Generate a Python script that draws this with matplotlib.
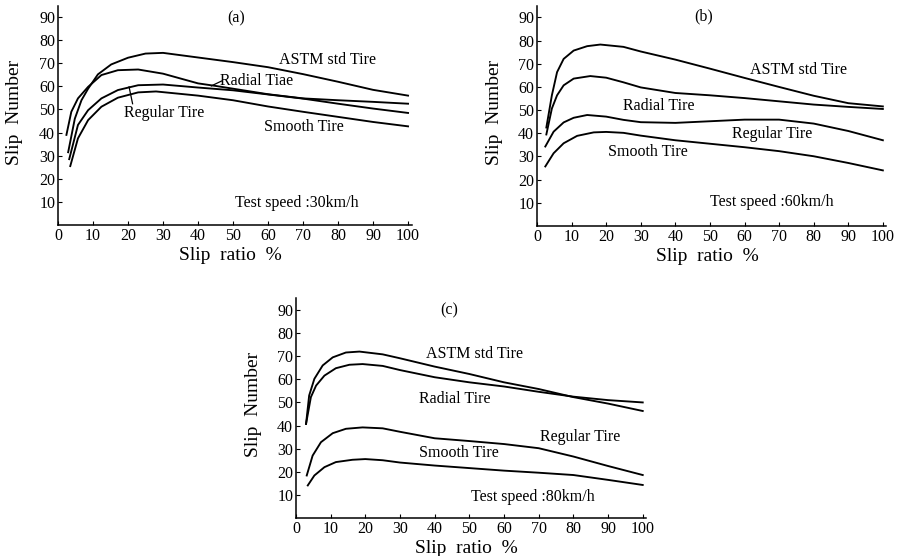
import matplotlib

matplotlib.use("Agg")

import matplotlib.pyplot as plt

plt.rcParams["font.family"] = ["Liberation Serif", "DejaVu Serif"]

# Slip number vs slip ratio (%), one set of tires per test speed

# (a) 30 km/h
astm_a_x = [2.9, 4.8, 6.7, 8.6, 11.4, 15.2, 20, 25, 30, 40, 50, 60, 70, 80, 90, 100]
astm_a = [31.5, 46, 54, 59, 65.2, 69.5, 72.4, 74.2, 74.5, 72.5, 70.5, 68.3, 65.3, 62, 58.5, 56]
radial_a_x = [2.4, 3.8, 5.7, 8.6, 12.4, 17.1, 22.9, 30, 40, 45, 50, 60, 70, 80, 90, 100]
radial_a = [39, 49, 54.8, 59.8, 64.9, 67, 67.3, 65.5, 61.3, 60.2, 59, 56.6, 54.8, 54, 53.3, 52.5]
regular_a_x = [3.2, 5.7, 8.6, 12.4, 17.1, 22.9, 30, 40, 50, 60, 70, 80, 90, 100]
regular_a = [28.5, 43.3, 49.7, 54.8, 58.4, 60.5, 60.8, 59.5, 58.3, 56.5, 54.7, 52.5, 50.4, 48.5]
smooth_a_x = [3.5, 5.7, 8.6, 12.4, 17.1, 22.9, 28, 40, 50, 60, 70, 80, 90, 100]
smooth_a = [25.5, 37.5, 45.4, 51.2, 55.1, 57.4, 57.8, 56, 54, 51.3, 49, 46.8, 44.6, 42.7]

# (b) 60 km/h
astm_b_x = [2.7, 4.3, 5.8, 7.7, 10.6, 14.5, 18.3, 25, 30, 40, 50, 60, 70, 80, 90, 100]
astm_b = [42.5, 56.4, 66.4, 72.1, 75.7, 77.6, 78.3, 77.3, 75.3, 71.8, 67.9, 63.9, 60, 56.2, 53, 51.6]
radial_b_x = [2.7, 4.3, 5.8, 7.7, 10.6, 15.4, 20, 25, 30, 40, 50, 60, 70, 80, 90, 100]
radial_b = [39.5, 50.7, 56.4, 60.7, 63.6, 64.7, 64, 62, 59.8, 57.4, 56.4, 55.2, 53.8, 52.4, 51.4, 50.5]
regular_b_x = [2.4, 4.8, 7.7, 10.6, 14.5, 20, 25, 30, 40, 50, 60, 70, 80, 90, 100]
regular_b = [34.3, 40.7, 44.7, 46.7, 47.9, 47.2, 45.8, 44.8, 44.5, 45.2, 45.9, 45.9, 44.2, 41, 37]
smooth_b_x = [2.4, 4.8, 7.7, 11.6, 16.4, 20, 25, 30, 40, 50, 60, 70, 80, 90, 100]
smooth_b = [25.7, 31.4, 35.7, 38.9, 40.4, 40.6, 40.2, 39, 37, 35.5, 34, 32.3, 30.1, 27.2, 24]

# (c) 80 km/h
astm_c_x = [2.9, 3.8, 5.3, 7.7, 10.6, 14.4, 18.3, 25, 30, 40, 50, 60, 70, 80, 90, 100]
astm_c = [40.7, 53, 60.2, 66, 69.5, 71.6, 72, 70.8, 69.1, 65.5, 62.3, 58.7, 55.8, 52.3, 49.5, 46.3]
radial_c_x = [2.9, 4.3, 5.8, 8.2, 11.5, 15.4, 19.2, 25, 30, 40, 50, 60, 70, 80, 90, 100]
radial_c = [40.7, 52.3, 57.3, 61.6, 64.8, 66.3, 66.6, 65.8, 64, 60.9, 58.7, 56.9, 54.6, 52.5, 51, 50]
regular_c_x = [3.1, 4.8, 7.2, 10.6, 14.4, 19.2, 25, 30, 40, 50, 60, 70, 80, 90, 100]
regular_c = [18.4, 27, 32.8, 36.7, 38.6, 39.2, 38.8, 37.3, 34.5, 33.3, 32, 30.2, 26.6, 22.5, 18.6]
smooth_c_x = [3.4, 5.3, 8.2, 11.5, 16.3, 20, 25, 30, 40, 50, 60, 70, 80, 90, 100]
smooth_c = [14.1, 18.4, 22, 24.2, 25.2, 25.5, 25, 24, 22.7, 21.6, 20.5, 19.6, 18.6, 16.5, 14.3]

x_ticks = list(range(0, 101, 10))
y_ticks = list(range(10, 91, 10))

fig = plt.figure(figsize=(8.98, 5.56), dpi=100)


def make_axes(rect):
    ax = fig.add_axes(rect)
    ax.set_xlim(0, 101)
    ax.set_ylim(0, 95)
    ax.set_xticks(x_ticks)
    ax.set_yticks(y_ticks)
    ax.spines["top"].set_visible(False)
    ax.spines["right"].set_visible(False)
    for side in ("left", "bottom"):
        ax.spines[side].set_linewidth(1.1)
    ax.tick_params(direction="in", length=3, width=0.8, labelsize=11.5, pad=2)
    ax.set_xlabel("Slip  ratio  %", fontsize=14, va="center")
    ax.set_ylabel("Slip  Number", fontsize=14, va="center")
    ax.xaxis.set_label_coords(0.487, -0.137)
    ax.yaxis.set_label_coords(-0.122, 0.515)
    return ax


def draw_curve(ax, xs, ys):
    ax.plot(xs, ys, color="black", lw=1.35)


label_kw = dict(ha="center", va="center", fontsize=11.5)

ax_a = make_axes([0.0646, 0.5953, 0.3937, 0.3948])
draw_curve(ax_a, astm_a_x, astm_a)
draw_curve(ax_a, radial_a_x, radial_a)
draw_curve(ax_a, regular_a_x, regular_a)
draw_curve(ax_a, smooth_a_x, smooth_a)
ax_a.text(51, 89.3, "(a)", **label_kw)
ax_a.text(77.1, 71.2, "ASTM std Tire", **label_kw)
ax_a.text(56.8, 62.5, "Radial Tiae", **label_kw)
ax_a.text(30.3, 48.6, "Regular Tire", **label_kw)
ax_a.text(70.2, 42.4, "Smooth Tire", **label_kw)
ax_a.text(68.3, 9.7, "Test speed :30km/h", **label_kw)
# leader lines from the curves to their labels
ax_a.plot([43.8, 46.7], [60.2, 62.3], color="black", lw=0.9)
ax_a.plot([20.3, 21.3], [59.8, 52.5], color="black", lw=0.9)

ax_b = make_axes([0.598, 0.5935, 0.389, 0.396])
draw_curve(ax_b, astm_b_x, astm_b)
draw_curve(ax_b, radial_b_x, radial_b)
draw_curve(ax_b, regular_b_x, regular_b)
draw_curve(ax_b, smooth_b_x, smooth_b)
ax_b.text(48.2, 90.4, "(b)", **label_kw)
ax_b.text(75.5, 67.4, "ASTM std Tire", **label_kw)
ax_b.text(35.1, 51.9, "Radial Tire", **label_kw)
ax_b.text(67.9, 39.9, "Regular Tire", **label_kw)
ax_b.text(32, 31.8, "Smooth Tire", **label_kw)
ax_b.text(67.9, 10.4, "Test speed :60km/h", **label_kw)

ax_c = make_axes([0.3296, 0.0683, 0.390, 0.395])
draw_curve(ax_c, astm_c_x, astm_c)
draw_curve(ax_c, radial_c_x, radial_c)
draw_curve(ax_c, regular_c_x, regular_c)
draw_curve(ax_c, smooth_c_x, smooth_c)
ax_c.text(44.1, 90, "(c)", **label_kw)
ax_c.text(51.4, 70.8, "ASTM std Tire", **label_kw)
ax_c.text(45.8, 51.4, "Radial Tire", **label_kw)
ax_c.text(82, 35, "Regular Tire", **label_kw)
ax_c.text(47.1, 28.3, "Smooth Tire", **label_kw)
ax_c.text(68.2, 9, "Test speed :80km/h", **label_kw)

fig.savefig("out.png", dpi=100)
plt.close(fig)
